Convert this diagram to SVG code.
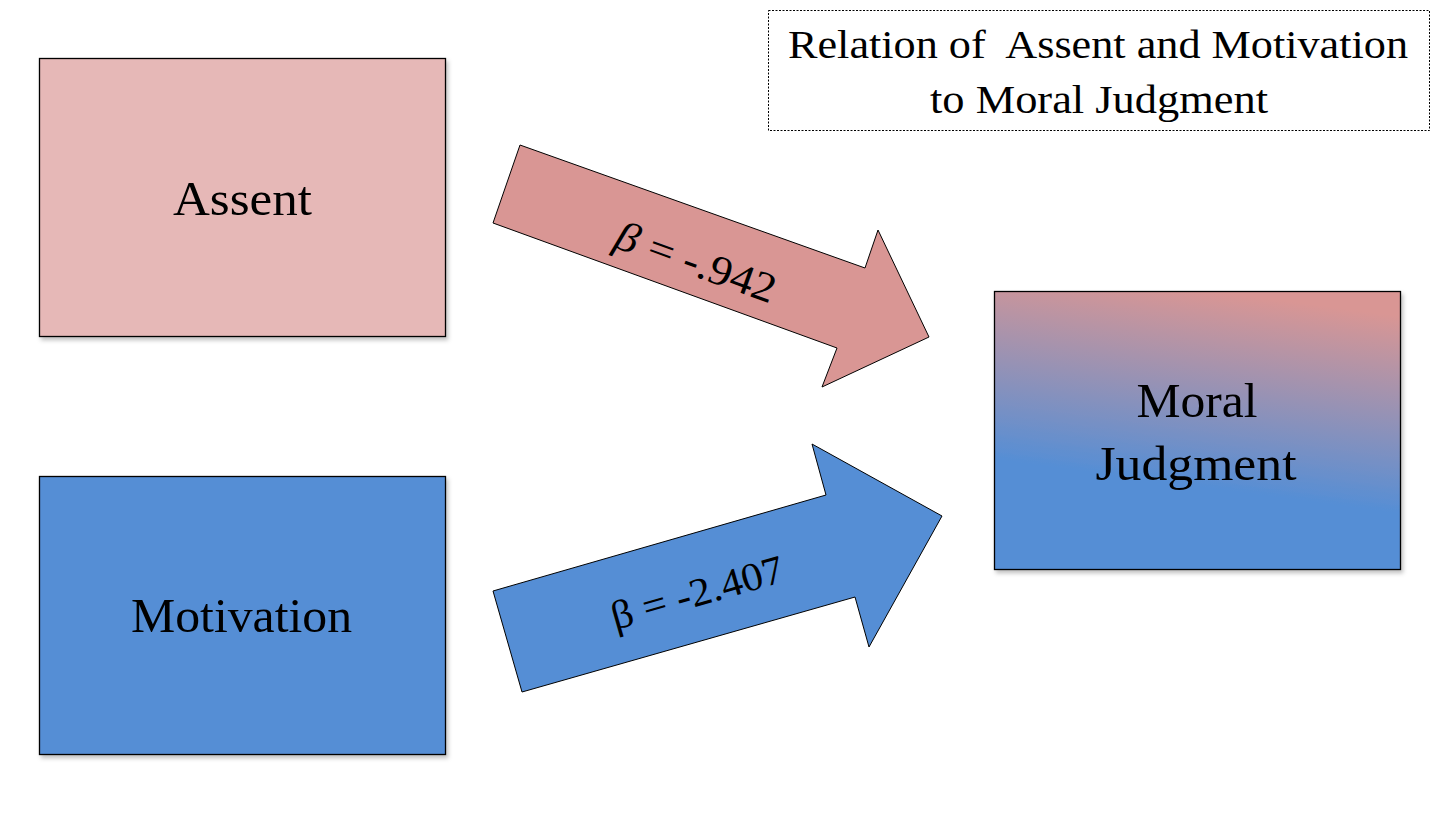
<svg xmlns="http://www.w3.org/2000/svg" width="1442" height="814" viewBox="0 0 1442 814">
  <style>
    .box { stroke: #000; stroke-width: 1.3; }
    .lbl { font-family: "Liberation Serif", "Times New Roman", serif; fill: #000; text-anchor: middle; }
    .arrow { stroke: #000; stroke-width: 1; stroke-linejoin: miter; }
  </style>
  <defs>
    <filter id="shadow" x="-5%" y="-5%" width="115%" height="115%">
      <feDropShadow dx="2" dy="3" stdDeviation="2" flood-color="#000" flood-opacity="0.25"/>
    </filter>
    <linearGradient id="mjGrad" gradientUnits="userSpaceOnUse" x1="1212" y1="291" x2="1186" y2="485">
      <stop offset="0" stop-color="#D99694"/>
      <stop offset="1" stop-color="#558ED5"/>
    </linearGradient>
  </defs>

  <rect width="1442" height="814" fill="#fff"/>

  <g id="title">
    <rect x="768.5" y="10.5" width="661" height="120" fill="#fff" stroke="#000" stroke-width="1" stroke-dasharray="2,1.5"/>
    <text class="lbl" x="1098" y="58" font-size="40" textLength="620" lengthAdjust="spacingAndGlyphs">Relation of&#160; Assent and Motivation</text>
    <text class="lbl" x="1099" y="113" font-size="40" textLength="338" lengthAdjust="spacingAndGlyphs">to Moral Judgment</text>
  </g>

  <g id="assent">
    <rect class="box" x="39.5" y="58.5" width="406" height="278" fill="#E6B8B7" filter="url(#shadow)"/>
    <text class="lbl" x="242.5" y="215" font-size="49" textLength="139" lengthAdjust="spacingAndGlyphs">Assent</text>
  </g>

  <g id="motivation">
    <rect class="box" x="39.5" y="476.5" width="406" height="278" fill="#558ED5" filter="url(#shadow)"/>
    <text class="lbl" x="241.5" y="632" font-size="49" textLength="221" lengthAdjust="spacingAndGlyphs">Motivation</text>
  </g>

  <g id="moral-judgment">
    <rect class="box" x="994.5" y="291.5" width="406" height="278" fill="url(#mjGrad)" filter="url(#shadow)"/>
    <text class="lbl" x="1197" y="417" font-size="49" textLength="121" lengthAdjust="spacingAndGlyphs">Moral</text>
    <text class="lbl" x="1196" y="480" font-size="49" textLength="201" lengthAdjust="spacingAndGlyphs">Judgment</text>
  </g>

  <g id="connectors">
    <g id="arrow-assent">
      <polygon class="arrow" fill="#D99694" points="520,145 865,268 878,230 929,337 822,387 837,348 493,223"/>
      <text class="lbl" font-size="42" transform="translate(696,262) rotate(19.8)" x="0" y="14" textLength="168" lengthAdjust="spacingAndGlyphs"><tspan font-style="italic">β</tspan> = -.942</text>
    </g>
    <g id="arrow-motivation">
      <polygon class="arrow" fill="#558ED5" points="493,591 826,495 812,444 942,516 869,647 855,597 522,692"/>
      <text class="lbl" font-size="40" transform="translate(697,592) rotate(-16)" x="0" y="14" textLength="178" lengthAdjust="spacingAndGlyphs">β = -2.407</text>
    </g>
  </g>
</svg>
